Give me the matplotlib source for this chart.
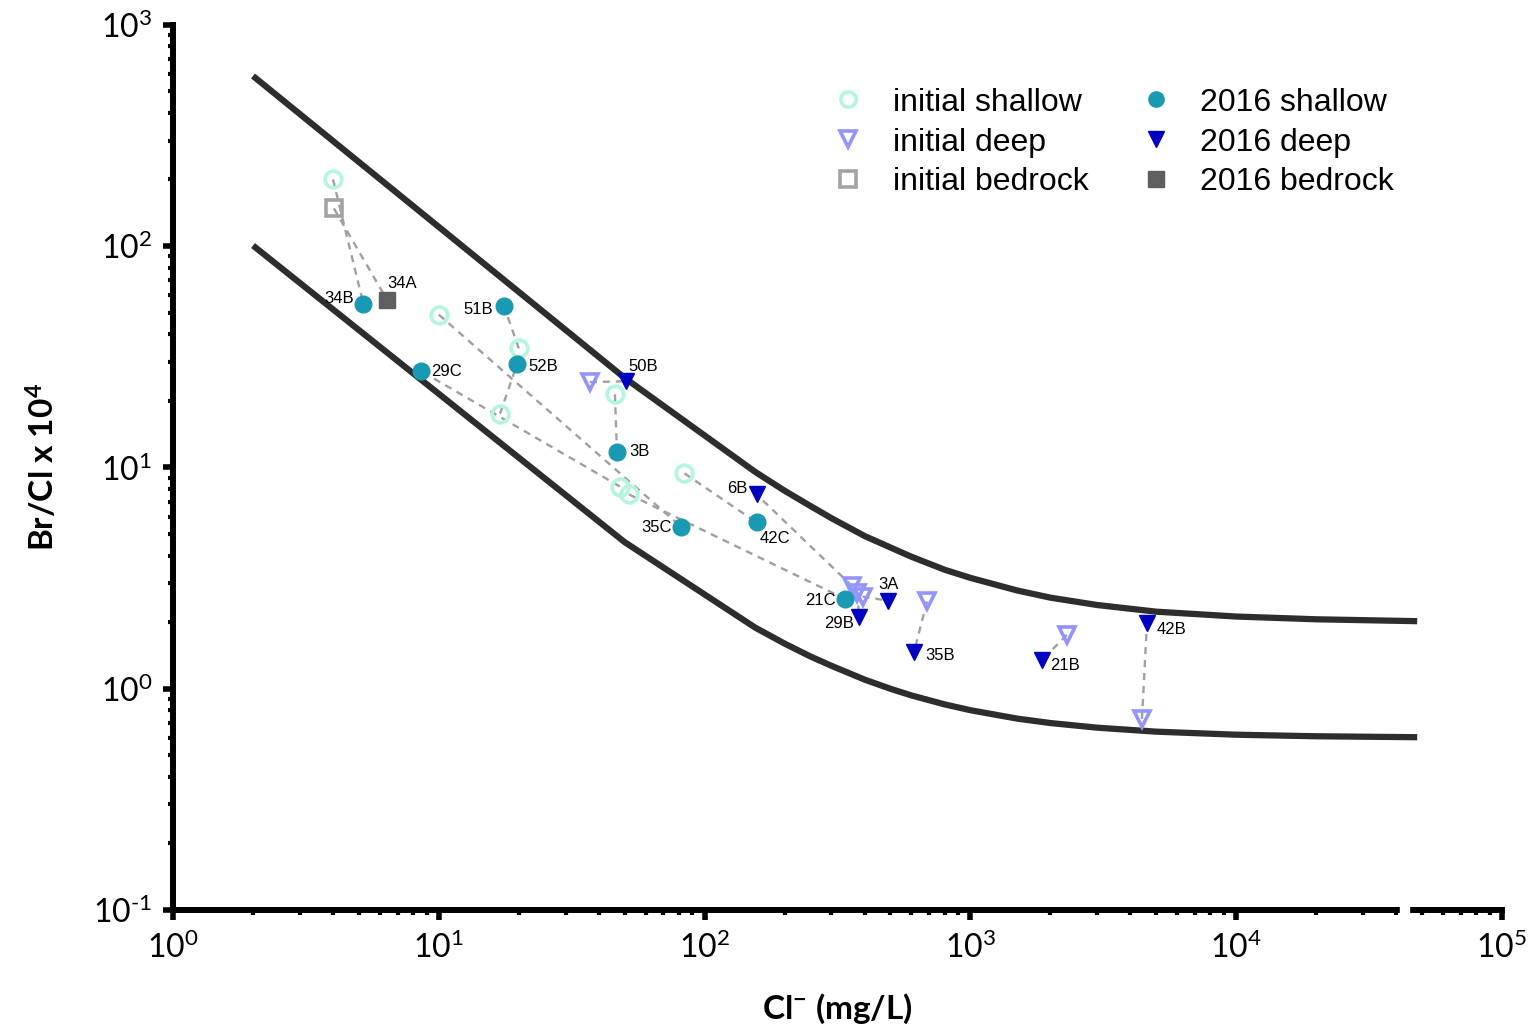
import numpy as np
import matplotlib
matplotlib.use("Agg")
import matplotlib.pyplot as plt
from matplotlib.lines import Line2D
from matplotlib.patches import Rectangle
from matplotlib.ticker import LogLocator, FixedFormatter, NullFormatter, FixedLocator

plt.rcParams['mathtext.fontset'] = 'custom'
plt.rcParams['mathtext.rm'] = 'Lato'
plt.rcParams['mathtext.bf'] = 'Lato:bold'
plt.rcParams['mathtext.it'] = 'Lato:italic'

# mixing envelope curves
curve_x = [2, 50, 155, 200, 250, 300, 400, 500, 600, 800, 1000, 1500, 2000, 3000,
           5000, 10000, 20000, 48000]
upper_y = [587, 25.4, 9.55, 7.85, 6.7, 5.9, 4.9, 4.35, 3.95, 3.45, 3.17, 2.78, 2.58, 2.39,
           2.23, 2.12, 2.06, 2.02]
lower_y = [100.6, 4.6, 1.89, 1.6, 1.4, 1.27, 1.1, 1.0, 0.933, 0.85, 0.8, 0.733, 0.7, 0.667,
           0.64, 0.62, 0.61, 0.604]

# 2016 samples and matching initial samples (same index = same well)
shallow_labels = ['34B', '51B', '52B', '29C', '3B', '35C', '42C', '21C']
shallow16_x = [5.2, 17.6, 19.7, 8.6, 46.8, 81.5, 157, 337]
shallow16_y = [55, 53.5, 29.3, 27.2, 11.8, 5.4, 5.64, 2.55]
shallow0_x = [4.0, 20, 17, 48, 46, 10, 84, 52]
shallow0_y = [200, 34.5, 17.5, 8.2, 21.4, 49, 9.4, 7.55]

deep_labels = ['50B', '6B', '3A', '29B', '35B', '21B', '42B']
deep16_x = [50.6, 157, 490, 381, 614, 1860, 4620]
deep16_y = [24.5, 7.55, 2.5, 2.12, 1.47, 1.35, 1.99]
deep0_x = [37, 360, 393, 376, 687, 2308, 4423]
deep0_y = [24.3, 2.9, 2.61, 2.72, 2.48, 1.75, 0.73]

bed_labels = ['34A']
bed16_x = [6.4]
bed16_y = [57]
bed0_x = [4.03]
bed0_y = [148]

c_sh0, c_sh16 = '#b3f5df', '#1a99b3'
c_dp0, c_dp16 = '#9494ff', '#0000c0'
c_bd0, c_bd16 = '#a3a3a3', '#5f5f5f'

fig = plt.figure(figsize=(15.31, 10.33), dpi=100)
ax = fig.add_axes([0.113, 0.119, 0.868, 0.857])
ax.set_xscale('log')
ax.set_yscale('log')
ax.set_xlim(1, 1e5)
ax.set_ylim(0.1, 1000)

ax.plot(curve_x, upper_y, color='#2d2d2d', lw=4.5, solid_capstyle='butt', zorder=2)
ax.plot(curve_x, lower_y, color='#2d2d2d', lw=4.5, solid_capstyle='butt', zorder=2)

# connectors initial -> 2016
for x0, y0, x1, y1 in [(shallow0_x, shallow0_y, shallow16_x, shallow16_y),
                       (deep0_x, deep0_y, deep16_x, deep16_y),
                       (bed0_x, bed0_y, bed16_x, bed16_y)]:
    for a, b, c, d in zip(x0, y0, x1, y1):
        ax.plot([a, c], [b, d], color='#a0a0a0', lw=1.7, ls=(0, (3, 2.5)), zorder=3)

ms = 12
ax.plot(shallow0_x, shallow0_y, 'o', ms=ms, mfc='none', mec=c_sh0, mew=2.6, ls='none', zorder=4)
ax.plot(deep0_x, deep0_y, 'v', ms=ms, mfc='none', mec=c_dp0, mew=2.6, ls='none', zorder=4)
ax.plot(bed0_x, bed0_y, 's', ms=ms, mfc='none', mec=c_bd0, mew=2.6, ls='none', zorder=4)
ax.plot(shallow16_x, shallow16_y, 'o', ms=ms, color=c_sh16, ls='none', zorder=5)
ax.plot(deep16_x, deep16_y, 'v', ms=ms, color=c_dp16, ls='none', zorder=5)
ax.plot(bed16_x, bed16_y, 's', ms=ms, color=c_bd16, ls='none', zorder=5)

offsets = {
    '34B': (-6.5, 4, 'right'), '34A': (0, 12, 'left'), '51B': (-8, -2, 'right'),
    '52B': (8, -1.5, 'left'), '29C': (7, 0, 'left'), '50B': (1.5, 11, 'left'),
    '3B': (9, 0, 'left'), '6B': (-6.5, 4.5, 'right'), '35C': (-6.5, -0.5, 'right'),
    '42C': (2, -11.5, 'left'), '21C': (-6.5, -1.5, 'right'), '3A': (-7, 11.5, 'left'),
    '29B': (-3.5, -5, 'right'), '35B': (8, -3, 'left'), '21B': (6, -4, 'left'),
    '42B': (7, -5, 'left'),
}
for labs, xs, ys in [(shallow_labels, shallow16_x, shallow16_y),
                     (deep_labels, deep16_x, deep16_y),
                     (bed_labels, bed16_x, bed16_y)]:
    for lab, x, y in zip(labs, xs, ys):
        dx, dy, ha = offsets[lab]
        ax.annotate(lab, (x, y), xytext=(dx, dy), textcoords='offset points',
                    ha=ha, va='center', fontsize=12, family='Liberation Sans', zorder=6)

# axes styling
for s in ['top', 'right']:
    ax.spines[s].set_visible(False)
for s in ['left', 'bottom']:
    ax.spines[s].set_linewidth(4.3)
    ax.spines[s].set_color('black')

xt = [1, 10, 100, 1000, 10000, 100000]
xt_labels = [r'$\mathregular{10^{%d}}$' % i for i in range(0, 6)]
yt = [0.1, 1, 10, 100, 1000]
yt_labels = [r'$\mathregular{10^{%s}}$' % s for s in ['\u2010' + '1', '0', '1', '2', '3']]
ax.xaxis.set_major_locator(FixedLocator(xt))
ax.xaxis.set_major_formatter(FixedFormatter(xt_labels))
ax.yaxis.set_major_locator(FixedLocator(yt))
ax.yaxis.set_major_formatter(FixedFormatter(yt_labels))
ax.xaxis.set_minor_locator(LogLocator(base=10, subs=np.arange(2, 10), numticks=20))
ax.yaxis.set_minor_locator(LogLocator(base=10, subs=np.arange(2, 10), numticks=20))
ax.xaxis.set_minor_formatter(NullFormatter())
ax.yaxis.set_minor_formatter(NullFormatter())
ax.tick_params(which='major', direction='out', length=7, width=4, labelsize=23, pad=8)
ax.tick_params(which='minor', direction='out', length=3.5, width=3)
for t in ax.get_xticklabels() + ax.get_yticklabels():
    t.set_family('Lato')

# axis break
ax.add_patch(Rectangle((41400, -0.03), 44700 - 41400, 0.05,
                       transform=ax.get_xaxis_transform(), color='white',
                       clip_on=False, zorder=10))

ax.set_xlabel(r'Cl$^{\mathbf{-}}$ (mg/L)', fontsize=24, fontweight='bold', family='Lato', labelpad=20)
ax.set_ylabel(r'Br/Cl x 10$^{\mathbf{4}}$', fontsize=24, fontweight='bold', family='Lato', labelpad=24)

handles = [
    Line2D([], [], marker='o', ls='none', ms=11, mfc='none', mec=c_sh0, mew=2.6),
    Line2D([], [], marker='v', ls='none', ms=11, mfc='none', mec=c_dp0, mew=2.6),
    Line2D([], [], marker='s', ls='none', ms=11, mfc='none', mec=c_bd0, mew=2.6),
    Line2D([], [], marker='o', ls='none', ms=11, color=c_sh16),
    Line2D([], [], marker='v', ls='none', ms=11, color=c_dp16),
    Line2D([], [], marker='s', ls='none', ms=11, color=c_bd16),
]
names = ['initial shallow', 'initial deep', 'initial bedrock',
         '2016 shallow', '2016 deep', '2016 bedrock']
ax.legend(handles, names, ncol=2, loc='upper left', bbox_to_anchor=(0.4936, 0.929),
          frameon=False, prop={'family': 'Liberation Sans', 'size': 23},
          handlelength=1.2, handletextpad=0.8, columnspacing=1.5, labelspacing=0.31,
          borderpad=0, borderaxespad=0)

fig.savefig('out.png', dpi=100)
